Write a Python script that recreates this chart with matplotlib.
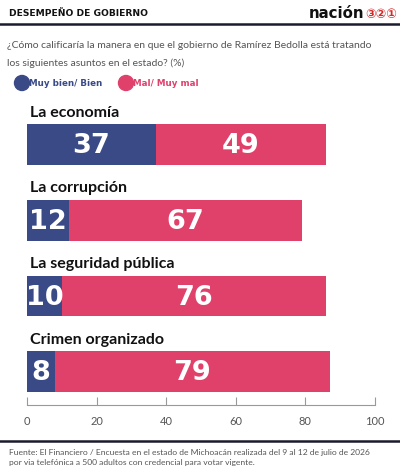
import matplotlib.pyplot as plt
from matplotlib.patches import Ellipse

# data
temas = ["La economía", "La corrupción", "La seguridad pública", "Crimen organizado"]
bien = [37, 12, 10, 8]
mal = [49, 67, 76, 79]
ticks = [0, 20, 40, 60, 80, 100]

azul = "#3a4a87"
rosa = "#e0416b"
gris = "#555555"

plt.rcParams['font.family'] = ['Lato', 'DejaVu Sans']

fig = plt.figure(figsize=(4, 4.7), dpi=100)
W, H = 400, 470

def fx(px):
    return px / W

def fy(py):
    return 1 - py / H

# header
fig.text(fx(9), fy(14), "DESEMPEÑO DE GOBIERNO", fontsize=6.6, fontweight='bold',
         color="#111111", va='center', ha='left', family=['DejaVu Sans'])
fig.text(fx(364), fy(13), "nación", fontsize=10.8, fontweight='bold', color="#111111",
         va='center', ha='right', family=['DejaVu Sans'])
fig.text(fx(365), fy(15), "③②①", fontsize=9, color="#d42a2a", va='center', ha='left',
         family=['DejaVu Sans'], fontweight='bold')
fig.add_artist(plt.Line2D([0, 1], [fy(24), fy(24)], color="#1b1b2f", lw=1.8))

# subtitle
fig.text(fx(7), fy(46), "¿Cómo calificaría la manera en que el gobierno de Ramírez Bedolla está tratando",
         fontsize=7.5, color=gris, va='center', ha='left')
fig.text(fx(7), fy(63), "los siguientes asuntos en el estado? (%)",
         fontsize=7.5, color=gris, va='center', ha='left')

# legend
fig.add_artist(Ellipse((fx(22), fy(83)), 15 / W, 15 / H, color=azul, transform=fig.transFigure))
fig.text(fx(29), fy(83), "Muy bien/ Bien", fontsize=6.3, fontweight='bold', color=azul,
         va='center', ha='left', family=['DejaVu Sans'])
fig.add_artist(Ellipse((fx(126), fy(83)), 15 / W, 15 / H, color=rosa, transform=fig.transFigure))
fig.text(fx(133), fy(83), "Mal/ Muy mal", fontsize=6.3, fontweight='bold', color=rosa,
         va='center', ha='left', family=['DejaVu Sans'])

# bars
ax = fig.add_axes([fx(27), fy(405), fx(375) - fx(27), (405 - 100) / H])
pos = list(range(len(temas)))
h = 0.54
ax.barh(pos, bien, height=h, color=azul)
ax.barh(pos, mal, left=bien, height=h, color=rosa)

for i in pos:
    ax.text(0.9, i - h / 2 - 0.06, temas[i], fontsize=11.5, fontweight='bold',
            color="#111111", va='bottom', ha='left')
    ax.text(bien[i] / 2, i + 0.02, str(bien[i]), fontsize=19.5, fontweight='bold',
            color='white', va='center', ha='center', family=['DejaVu Sans'])
    ax.text(bien[i] + mal[i] / 2, i + 0.02, str(mal[i]), fontsize=19.5, fontweight='bold',
            color='white', va='center', ha='center', family=['DejaVu Sans'])

ax.set_xlim(0, 100)
ax.set_ylim(3.44, -0.59)
ax.set_xticks(ticks)
ax.set_xticklabels([str(t) for t in ticks])
ax.set_yticks([])
for s in ['top', 'right', 'left']:
    ax.spines[s].set_visible(False)
ax.spines['bottom'].set_color("#999999")
ax.spines['bottom'].set_linewidth(0.8)
ax.tick_params(axis='x', direction='in', length=6, width=0.8, color="#999999",
               labelsize=8, labelcolor=gris, pad=8)

# footer
fig.add_artist(plt.Line2D([0, 1], [fy(441), fy(441)], color="#1b1b2f", lw=1.8))
fig.text(fx(9), fy(452), "Fuente: El Financiero / Encuesta en el estado de Michoacán realizada del 9 al 12 de julio de 2026",
         fontsize=6.1, color=gris, va='center', ha='left')
fig.text(fx(9), fy(462), "por via telefónica a 500 adultos con credencial para votar vigente.",
         fontsize=6.1, color=gris, va='center', ha='left')

fig.savefig("out.png", dpi=100, facecolor='white')
